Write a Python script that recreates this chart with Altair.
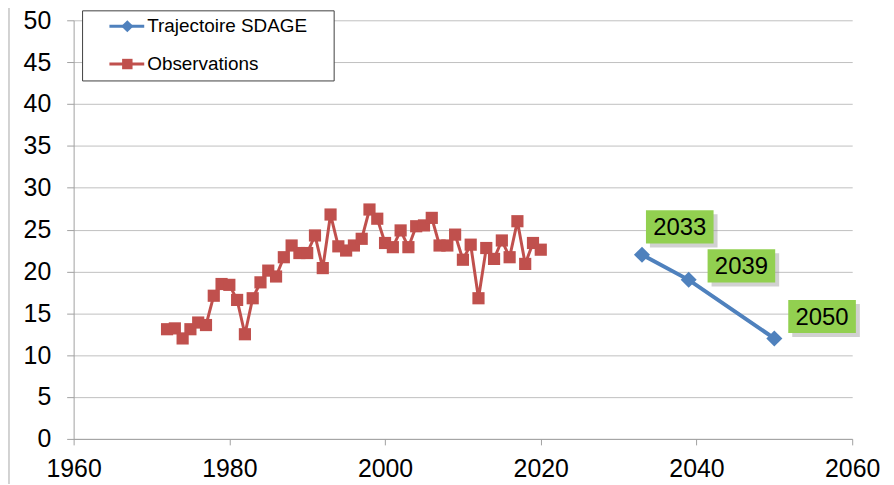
import altair as alt
import pandas as pd

# ---------------- data ----------------
obs_years = [1972, 1973, 1974, 1975, 1976, 1977, 1978, 1979, 1980, 1981,
             1982, 1983, 1984, 1985, 1986, 1987, 1988, 1989, 1990, 1991,
             1992, 1993, 1994, 1995, 1996, 1997, 1998, 1999, 2000, 2001,
             2002, 2003, 2004, 2005, 2006, 2007, 2008, 2009, 2010, 2011,
             2012, 2013, 2014, 2015, 2016, 2017, 2018, 2019, 2020]
obs_values = [13.1, 13.2, 12.0, 13.1, 13.9, 13.6, 17.1, 18.5, 18.4, 16.6,
              12.5, 16.8, 18.7, 20.1, 19.4, 21.7, 23.1, 22.2, 22.2, 24.3,
              20.4, 26.8, 23.0, 22.5, 23.1, 23.9, 27.4, 26.3, 23.4, 22.9,
              24.9, 22.9, 25.4, 25.5, 26.4, 23.1, 23.1, 24.4, 21.4, 23.2,
              16.8, 22.8, 21.5, 23.7, 21.7, 26.0, 20.9, 23.4, 22.6]
traj_years = [2033, 2039, 2050]
traj_values = [22, 19, 12]
traj_labels = ["2033", "2039", "2050"]
series_names = ["Trajectoire SDAGE", "Observations"]
x_ticks = [1960, 1980, 2000, 2020, 2040, 2060]
y_ticks = [0, 5, 10, 15, 20, 25, 30, 35, 40, 45, 50]

obs = pd.DataFrame({"year": obs_years, "value": obs_values})
traj = pd.DataFrame({"year": traj_years, "value": traj_values, "label": traj_labels})
one = pd.DataFrame({"k": [0]})

FONT = "Liberation Sans"
RED = "#C0504D"
BLUE = "#4F81BD"
GREEN = "#92D050"
GRID = "#BFBFBF"
AXIS = "#A0A0A0"

x_enc = alt.X("year:Q",
              scale=alt.Scale(domain=[1960, 2060], nice=False, zero=False),
              axis=alt.Axis(values=x_ticks, format="d", grid=False, title=None,
                            domainColor=AXIS, tickColor=AXIS, tickSize=6,
                            labelFontSize=25, labelFont=FONT, labelColor="#000000",
                            labelPadding=12, labelFlush=False, labelOverlap=False))
y_enc = alt.Y("value:Q",
              scale=alt.Scale(domain=[0, 50], nice=False),
              axis=alt.Axis(values=y_ticks, grid=True, gridColor=GRID, gridWidth=1,
                            title=None, domainColor=AXIS, tickColor=AXIS, tickSize=7,
                            labelFontSize=25, labelFont=FONT, labelColor="#000000",
                            labelPadding=16, labelFlush=False, labelOverlap=False))

layers = []

# outer chart border (left edge)
layers.append(alt.Chart(one).mark_rule(color="#A6A6A6", strokeWidth=1).encode(
    x=alt.value(-65), y=alt.value(-19), y2=alt.value(470)))

# observations
layers.append(alt.Chart(obs).mark_line(color=RED, strokeWidth=3).encode(x=x_enc, y=y_enc))
layers.append(alt.Chart(obs).mark_point(shape="square", filled=True, size=150,
                                        color=RED, opacity=1).encode(x="year:Q", y="value:Q"))

# trajectory
layers.append(alt.Chart(traj).mark_line(color=BLUE, strokeWidth=4).encode(x="year:Q", y="value:Q"))
layers.append(alt.Chart(traj).mark_point(shape="diamond", filled=True, size=260,
                                         color=BLUE, opacity=1).encode(x="year:Q", y="value:Q"))

# data labels
box_shape = "M-1,-0.49H1V0.49H-1Z"
offsets = {"2033": (38, -28), "2039": (53, -14), "2050": (48, -22)}
for lab in traj_labels:
    dx, dy = offsets[lab]
    base = alt.Chart(traj).transform_filter(alt.datum.label == lab)
    layers.append(base.mark_point(shape=box_shape, filled=True, size=4624, color="#9A9A9A",
                                  opacity=0.45, xOffset=dx + 4, yOffset=dy + 4).encode(
        x="year:Q", y="value:Q"))
    layers.append(base.mark_point(shape=box_shape, filled=True, size=4624, color=GREEN,
                                  opacity=1, xOffset=dx, yOffset=dy).encode(
        x="year:Q", y="value:Q"))
    layers.append(base.mark_text(font=FONT, fontSize=24, color="#000000", align="center",
                                 baseline="middle", dx=dx, dy=dy + 1).encode(
        x="year:Q", y="value:Q", text="label:N"))

# legend
layers.append(alt.Chart(one).mark_rect(fill="white", stroke="#404040", strokeWidth=1).encode(
    x=alt.value(9), x2=alt.value(262), y=alt.value(-9.5), y2=alt.value(61)))
for name, col, shape, ypos, sz in [(series_names[0], BLUE, "diamond", 6, 150),
                                   (series_names[1], RED, "square", 44, 110)]:
    layers.append(alt.Chart(one).mark_rule(color=col, strokeWidth=3).encode(
        x=alt.value(36), x2=alt.value(71), y=alt.value(ypos)))
    layers.append(alt.Chart(one).mark_point(shape=shape, filled=True, size=sz, color=col,
                                            opacity=1).encode(
        x=alt.value(54), y=alt.value(ypos)))
    layers.append(alt.Chart(one).mark_text(font=FONT, fontSize=19, color="#000000",
                                           align="left", baseline="middle").encode(
        x=alt.value(74), y=alt.value(ypos), text=alt.value(name)))

chart = alt.layer(*layers).properties(
    width=783, height=421,
    padding={"left": 66, "top": 11, "right": 34, "bottom": 44},
    autosize=alt.AutoSizeParams(type="none"),
).configure_view(stroke="transparent")

chart.save("out.html", embed_options={"renderer": "svg", "actions": False})
